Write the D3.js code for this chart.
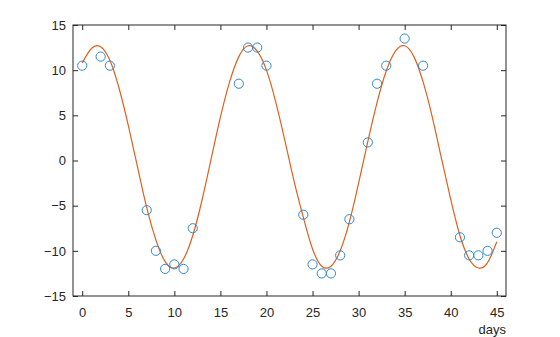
<!DOCTYPE html>
<html>
<head>
<meta charset="utf-8">
<script src="https://cdn.jsdelivr.net/npm/d3@7"></script>
<style>
  body { margin: 0; background: #fff; }
  svg text { font-family: "Liberation Sans", Arial, sans-serif; font-size: 13px; fill: #262626; }
</style>
</head>
<body>
<div id="chart"></div>
<script>
const width = 560,
height = 337,
margin = { top: 25, right: 54, bottom: 41, left: 73 };

// measured temperatures
const days = [0, 2, 3, 7, 8, 9, 10, 11, 12, 17, 18, 19, 20, 24, 25, 26, 27, 28, 29, 31, 32, 33, 35, 37, 41, 42, 43, 44, 45];
const temps = [10.5, 11.5, 10.5, -5.5, -10, -12, -11.5, -12, -7.5, 8.5, 12.5, 12.5, 10.5, -6, -11.5, -12.5, -12.5, -10.5, -6.5, 2, 8.5, 10.5, 13.5, 10.5, -8.5, -10.5, -10.5, -10, -8];

const fitDays = d3.range(0, 46);
const fitVals = [10.8, 12.4, 12.6, 11.1, 8.0, 3.9, -0.7, -5.2, -8.8, -11.2, -11.9, -10.9, -8.3, -4.4, 0.2, 4.8, 8.7, 11.5, 12.7, 12.1, 10.0, 6.5, 2.2, -2.3, -6.3, -9.8, -11.7, -11.7, -10.0, -6.8, -2.5, 2.1, 6.4, 9.9, 12.1, 12.7, 11.5, 8.7, 4.8, 0.2, -4.3, -8.3, -10.9, -11.9, -11.3, -9.0];

const xTicks = [0, 5, 10, 15, 20, 25, 30, 35, 40, 45];
const yTicks = [-15, -10, -5, 0, 5, 10, 15];

const svg = d3.select('#chart').
append('svg').
attr('width', width).
attr('height', height);

const x = d3.scaleLinear().domain([-1, 46]).range([margin.left, width - margin.right]);
const y = d3.scaleLinear().domain([-15, 15]).range([height - margin.bottom, margin.top]);

const tick = 5;

// bottom and top axes, ticks pointing inward
svg.append('g').
attr('transform', `translate(0,${y(-15)})`).
call(d3.axisBottom(x).tickValues(xTicks).tickSizeInner(-tick).tickSizeOuter(0).tickPadding(12)).
call(g => g.select('.domain').remove());

svg.append('g').
attr('transform', `translate(0,${y(15)})`).
call(d3.axisTop(x).tickValues(xTicks).tickSizeInner(-tick).tickSizeOuter(0).tickFormat('')).
call(g => g.select('.domain').remove());

svg.append('g').
attr('transform', `translate(${x(-1)},0)`).
call(d3.axisLeft(y).tickValues(yTicks).tickSizeInner(-tick).tickSizeOuter(0).tickPadding(7)).
call(g => g.select('.domain').remove());

svg.append('g').
attr('transform', `translate(${x(46)},0)`).
call(d3.axisRight(y).tickValues(yTicks).tickSizeInner(-tick).tickSizeOuter(0).tickFormat('')).
call(g => g.select('.domain').remove());

svg.selectAll('.tick line').attr('stroke', '#262626');
svg.selectAll('.tick text').style('font-size', '13px').attr('fill', '#262626');

// box
svg.append('rect').
attr('x', x(-1)).
attr('y', y(15)).
attr('width', x(46) - x(-1)).
attr('height', y(-15) - y(15)).
attr('fill', 'none').
attr('stroke', '#262626').
attr('stroke-width', 1);

const line = d3.line().
x((d, i) => x(fitDays[i])).
y(d => y(d)).
curve(d3.curveNatural);

svg.append('path').
datum(fitVals).
attr('d', line).
attr('fill', 'none').
attr('stroke', '#e0601c').
attr('stroke-width', 1.2);

svg.append('g').
selectAll('circle').
data(temps).
enter().
append('circle').
attr('cx', (d, i) => x(days[i])).
attr('cy', d => y(d)).
attr('r', 4.6).
attr('fill', 'none').
attr('stroke', '#2f87d2').
attr('stroke-width', 1);

svg.append('text').
attr('x', x(46)).
attr('y', 334).
attr('text-anchor', 'end').
text('days');
</script>
</body>
</html>
